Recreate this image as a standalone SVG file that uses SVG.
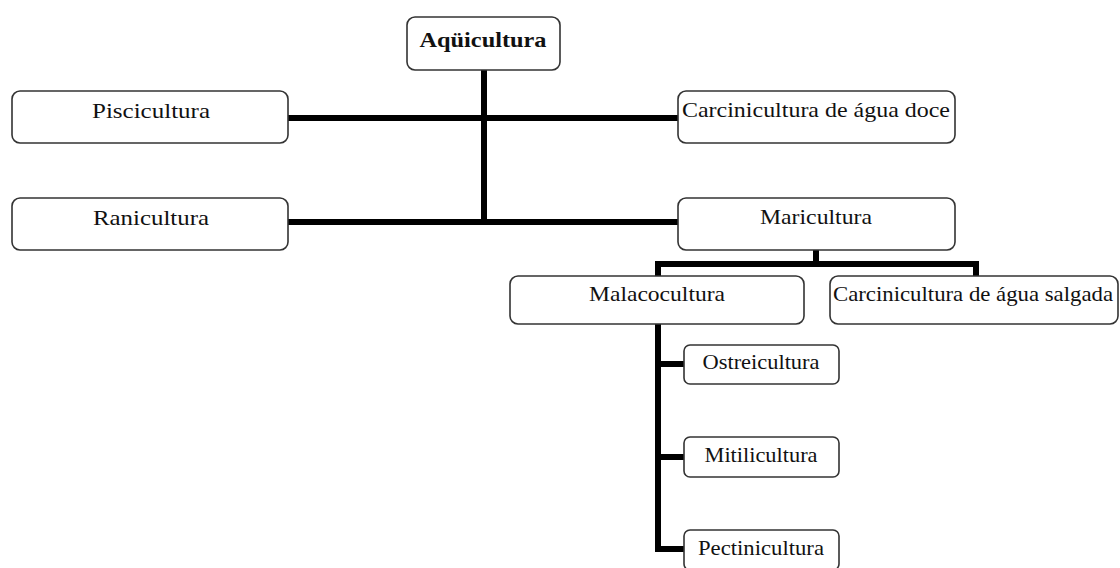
<svg xmlns="http://www.w3.org/2000/svg" width="1120" height="568" viewBox="0 0 1120 568">
<style>
.box{fill:#fff;stroke:#333;stroke-width:1.6}
.t{font-family:"Liberation Serif","Times New Roman",serif;font-size:22px;fill:#111;text-anchor:middle}
.b{font-weight:bold}
.c{stroke:#000;stroke-width:6;fill:none;stroke-linecap:butt}
</style>
<rect width="1120" height="568" fill="#fff"/>
<g id="connectors">
<path class="c" d="M484 70V222"/>
<path class="c" d="M288 118H678"/>
<path class="c" d="M288 222H678"/>
<path class="c" d="M816 250V264"/>
<path class="c" d="M658 276V264H976V276"/>
<path class="c" d="M658 324V549"/>
<path class="c" d="M655 364H684"/>
<path class="c" d="M655 457H684"/>
<path class="c" d="M655 549H684"/>
</g>
<g id="aquicultura"><rect class="box" x="407" y="17" width="153" height="53" rx="8"/><text class="t b" x="483" y="47" textLength="127" lengthAdjust="spacingAndGlyphs">Aqüicultura</text></g>
<g id="piscicultura"><rect class="box" x="12" y="91" width="276" height="52" rx="8"/><text class="t" x="151" y="118" textLength="118" lengthAdjust="spacingAndGlyphs">Piscicultura</text></g>
<g id="carcinicultura-doce"><rect class="box" x="678" y="91" width="277" height="52" rx="8"/><text class="t" x="816" y="117" textLength="268" lengthAdjust="spacingAndGlyphs">Carcinicultura de água doce</text></g>
<g id="ranicultura"><rect class="box" x="12" y="198" width="276" height="52" rx="8"/><text class="t" x="151" y="225" textLength="116" lengthAdjust="spacingAndGlyphs">Ranicultura</text></g>
<g id="maricultura"><rect class="box" x="678" y="198" width="277" height="52" rx="8"/><text class="t" x="816" y="224" textLength="112" lengthAdjust="spacingAndGlyphs">Maricultura</text></g>
<g id="malacocultura"><rect class="box" x="510" y="276" width="294" height="48" rx="8"/><text class="t" x="657" y="301" textLength="136" lengthAdjust="spacingAndGlyphs">Malacocultura</text></g>
<g id="carcinicultura-salgada"><rect class="box" x="830" y="276" width="288" height="48" rx="8"/><text class="t" x="973" y="301" textLength="280" lengthAdjust="spacingAndGlyphs">Carcinicultura de água salgada</text></g>
<g id="ostreicultura"><rect class="box" x="684" y="345" width="155" height="39" rx="6"/><text class="t" x="761" y="369" textLength="117" lengthAdjust="spacingAndGlyphs">Ostreicultura</text></g>
<g id="mitilicultura"><rect class="box" x="684" y="437" width="155" height="40" rx="6"/><text class="t" x="761" y="462" textLength="113" lengthAdjust="spacingAndGlyphs">Mitilicultura</text></g>
<g id="pectinicultura"><rect class="box" x="684" y="530" width="155" height="40" rx="6"/><text class="t" x="761" y="555" textLength="126" lengthAdjust="spacingAndGlyphs">Pectinicultura</text></g>
</svg>
